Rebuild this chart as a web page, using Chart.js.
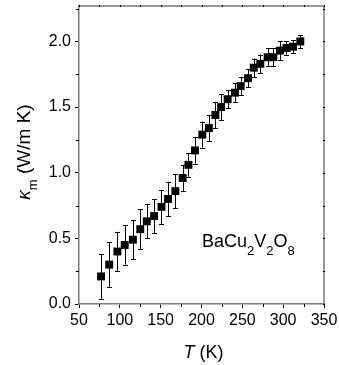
<!DOCTYPE html>
<html>
<head>
<meta charset="utf-8">
<script src="https://cdn.jsdelivr.net/npm/chart.js@4.4.0/dist/chart.umd.min.js"></script>
<style>
  html, body { margin: 0; padding: 0; background: #fff; }
  #wrap { width: 339px; height: 365px; }
</style>
</head>
<body>
<div id="wrap"><canvas id="kappaChart" width="339" height="365"></canvas></div>
<script>
// Data
const temps = [77, 87, 97, 106, 116, 125, 133, 142, 151, 159, 168, 177, 184, 192, 201,
               209, 217, 224, 232, 241, 248, 257, 264, 272, 281, 288, 296, 304, 312, 321];
const kappa = [0.21, 0.30, 0.40, 0.45, 0.49, 0.57, 0.63, 0.67, 0.74, 0.80, 0.86, 0.96, 1.06, 1.17, 1.29,
               1.34, 1.44, 1.50, 1.56, 1.61, 1.66, 1.72, 1.80, 1.83, 1.88, 1.88, 1.93, 1.95, 1.96, 2.00];
const kappaErr = [0.17, 0.17, 0.15, 0.15, 0.15, 0.15, 0.13, 0.13, 0.13, 0.13, 0.13, 0.10, 0.09, 0.10, 0.10,
                  0.10, 0.10, 0.10, 0.07, 0.07, 0.07, 0.07, 0.07, 0.07, 0.07, 0.07, 0.07, 0.05, 0.05, 0.05];

const xTicks = [50, 100, 150, 200, 250, 300, 350];
const yTicks = [0, 0.5, 1.0, 1.5, 2.0];
const xMinor = [75, 125, 175, 225, 275, 325];
const yMinor = [0.25, 0.75, 1.25, 1.75, 2.25];

const FONT = '"Liberation Sans", Arial, sans-serif';
const FRAME = '#7a7a7a';

// error bars, frame, minor ticks, titles
const decorPlugin = {
    id: 'decor',
    beforeDatasetsDraw(chart) {
        const ctx = chart.ctx;
        const xs = chart.scales.x, ys = chart.scales.y;
        ctx.save();
        ctx.strokeStyle = '#000';
        ctx.lineWidth = 1;
        temps.forEach((t, i) => {
            const px = Math.round(xs.getPixelForValue(t)) + 0.5;
            const top = ys.getPixelForValue(kappa[i] + kappaErr[i]);
            const bot = ys.getPixelForValue(kappa[i] - kappaErr[i]);
            ctx.beginPath();
            ctx.moveTo(px, top); ctx.lineTo(px, bot);
            ctx.moveTo(px - 2.5, Math.round(top) + 0.5); ctx.lineTo(px + 2.5, Math.round(top) + 0.5);
            ctx.moveTo(px - 2.5, Math.round(bot) + 0.5); ctx.lineTo(px + 2.5, Math.round(bot) + 0.5);
            ctx.stroke();
        });
        ctx.restore();
    },
    afterDraw(chart) {
        const ctx = chart.ctx;
        const a = chart.chartArea;
        const xs = chart.scales.x, ys = chart.scales.y;
        ctx.save();

        // frame (top and right)
        ctx.strokeStyle = FRAME;
        ctx.lineWidth = 1.5;
        ctx.beginPath();
        ctx.moveTo(a.left, a.top); ctx.lineTo(a.right, a.top); ctx.lineTo(a.right, a.bottom);
        ctx.stroke();

        // minor ticks outside bottom/left, small ticks on top/right
        ctx.strokeStyle = '#000';
        ctx.lineWidth = 1;
        ctx.beginPath();
        xMinor.forEach(v => {
            const px = Math.round(xs.getPixelForValue(v)) + 0.5;
            ctx.moveTo(px, a.bottom); ctx.lineTo(px, a.bottom + 3);
        });
        yMinor.forEach(v => {
            const py = Math.round(ys.getPixelForValue(v)) + 0.5;
            if (py < a.top) return;
            ctx.moveTo(a.left, py); ctx.lineTo(a.left - 3, py);
        });
        xTicks.concat(xMinor).forEach(v => {
            const px = Math.round(xs.getPixelForValue(v)) + 0.5;
            ctx.moveTo(px, a.top - 1); ctx.lineTo(px, a.top + 1);
        });
        yTicks.concat(yMinor).forEach(v => {
            const py = Math.round(ys.getPixelForValue(v)) + 0.5;
            if (py < a.top + 2) return;
            ctx.moveTo(a.right - 1, py); ctx.lineTo(a.right + 1, py);
        });
        ctx.stroke();

        ctx.fillStyle = '#000';
        ctx.textBaseline = 'alphabetic';

        // x title: T (K)
        ctx.font = 'italic 18px ' + FONT;
        const wT = ctx.measureText('T').width;
        ctx.font = '18px ' + FONT;
        const wK = ctx.measureText(' (K)').width;
        let x0 = 203.5 - (wT + wK) / 2;
        ctx.font = 'italic 18px ' + FONT;
        ctx.fillText('T', x0, 358);
        ctx.font = '18px ' + FONT;
        ctx.fillText(' (K)', x0 + wT, 358);

        // y title: kappa_m (W/m K)
        ctx.translate(30, 152);
        ctx.rotate(-Math.PI / 2);
        ctx.font = 'italic 19px ' + FONT;
        const wk = ctx.measureText('\u03BA').width;
        ctx.font = '13px ' + FONT;
        const wm = ctx.measureText('m').width;
        ctx.font = '19px ' + FONT;
        const wu = ctx.measureText(' (W/m K)').width;
        let s = -(wk + wm + wu) / 2;
        ctx.font = 'italic 19px ' + FONT;
        ctx.fillText('\u03BA', s, 0);
        ctx.font = '13px ' + FONT;
        ctx.fillText('m', s + wk, 7);
        ctx.font = '19px ' + FONT;
        ctx.fillText(' (W/m K)', s + wk + wm, 0);
        ctx.setTransform(1, 0, 0, 1, 0, 0);

        // compound label
        const parts = [['BaCu', false], ['2', true], ['V', false], ['2', true], ['O', false], ['8', true]];
        let tx = 202;
        parts.forEach(([txt, sub]) => {
            ctx.font = (sub ? '13px ' : '18px ') + FONT;
            ctx.fillText(txt, tx, sub ? 255 : 247);
            tx += ctx.measureText(txt).width;
        });

        ctx.restore();
    }
};

function initializeChart() {
    const ctx = document.getElementById('kappaChart').getContext('2d');
    return new Chart(ctx, {
        type: 'scatter',
        data: {
            datasets: [{
                data: temps.map((t, i) => ({ x: t, y: kappa[i] })),
                pointStyle: 'rect',
                pointRadius: 5.6,
                backgroundColor: '#000',
                borderColor: '#000',
                borderWidth: 0,
                showLine: false
            }]
        },
        options: {
            responsive: false,
            animation: false,
            events: [],
            layout: { padding: { top: 6, right: 15, left: 0, bottom: 0 } },
            plugins: { legend: { display: false }, tooltip: { enabled: false } },
            scales: {
                x: {
                    type: 'linear',
                    min: 50,
                    max: 350,
                    afterBuildTicks: scale => { scale.ticks = xTicks.map(v => ({ value: v })); },
                    afterFit: scale => {
                        scale.height = 61;
                        scale.paddingLeft = 0;
                        scale.paddingRight = 0;
                    },
                    ticks: {
                        color: '#000',
                        font: { family: FONT, size: 16 },
                        padding: 3,
                        maxRotation: 0,
                        autoSkip: false
                    },
                    grid: { drawOnChartArea: false, tickLength: 4, color: '#000' },
                    border: { color: FRAME, width: 1.5 }
                },
                y: {
                    type: 'linear',
                    min: 0,
                    max: 2.27,
                    afterBuildTicks: scale => { scale.ticks = yTicks.map(v => ({ value: v })); },
                    afterFit: scale => {
                        scale.width = 79;
                        scale.paddingTop = 0;
                        scale.paddingBottom = 0;
                    },
                    ticks: {
                        color: '#000',
                        font: { family: FONT, size: 16 },
                        padding: 4,
                        callback: v => v.toFixed(1),
                        autoSkip: false
                    },
                    grid: { drawOnChartArea: false, tickLength: 4, color: '#000' },
                    border: { color: FRAME, width: 1.5 }
                }
            }
        },
        plugins: [decorPlugin]
    });
}

initializeChart();
</script>
</body>
</html>
